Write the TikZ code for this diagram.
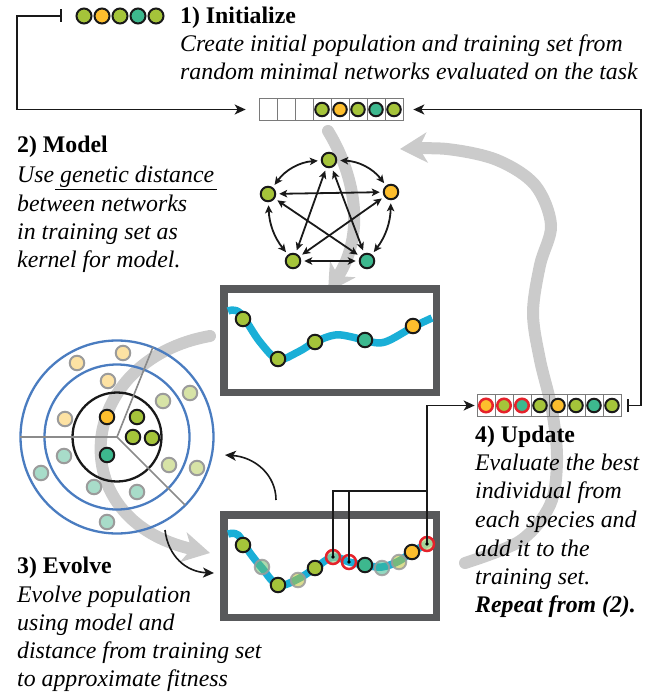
\documentclass[tikz,border=0pt]{standalone}
\usepackage{fontspec}
\setmainfont{Liberation Serif}
\usetikzlibrary{arrows.meta}
\definecolor{cgreen}{HTML}{A5C43A}
\definecolor{corange}{HTML}{FDBE2D}
\definecolor{cteal}{HTML}{3DB88E}
\definecolor{ccyan}{HTML}{1AAFD7}
\definecolor{cbox}{HTML}{58595B}
\definecolor{cblue}{HTML}{4A7CC0}
\definecolor{cred}{HTML}{E5222B}
\definecolor{cbg}{HTML}{CBCBCB}
\definecolor{pgreen}{HTML}{D7E3A6}
\definecolor{porange}{HTML}{FDE2A3}
\definecolor{pteal}{HTML}{A8DCC9}
\definecolor{cfade}{HTML}{9B9B9B}
\definecolor{ccell}{HTML}{7A7A7A}
\begin{document}
\begin{tikzpicture}[x=1pt,y=-1pt,
  dot/.style={circle,draw=black!90,line width=2pt,minimum size=14.5pt,inner sep=0pt},
  G/.style={dot,fill=cgreen}, O/.style={dot,fill=corange}, T/.style={dot,fill=cteal},
  fd/.style={circle,draw=cfade,line width=2pt,minimum size=14.5pt,inner sep=0pt},
  fG/.style={fd,fill=pgreen}, fO/.style={fd,fill=porange}, fT/.style={fd,fill=pteal},
  fc/.style={circle,draw=cfade,draw opacity=0.85,line width=2pt,minimum size=14.5pt,inner sep=0pt,fill opacity=0.55},
  rr/.style={circle,draw=cred,line width=2.5pt,minimum size=14pt,inner sep=0pt},
  cell/.style={draw=ccell,line width=0.7pt,minimum width=18pt,minimum height=22pt,inner sep=0pt},
  conn/.style={draw=black!90,line width=1.6pt},
  tip/.style={-{Stealth[length=11pt,width=10pt,inset=3pt]}},
  teearrow/.style={{Bar[width=13pt]}-{Stealth[length=11pt,width=10pt,inset=3pt]}},
  ntip/.style={{Stealth[length=8pt,width=7.5pt,inset=2pt]}-{Stealth[length=8pt,width=7.5pt,inset=2pt]},draw=black!90,line width=1.8pt,shorten <=3pt,shorten >=3pt},
  bgarrow/.style={draw=cbg,line width=12pt,line cap=round,-{Stealth[length=27pt,width=30pt,inset=8pt]}},
  curve/.style={draw=ccyan,line width=7.5pt},
  box/.style={draw=cbox,line width=7.5pt,fill=white},
  ttl/.style={anchor=base west,inner sep=0pt,font=\fontsize{23.8}{28}\selectfont\bfseries},
  txt/.style={anchor=base west,inner sep=0pt,font=\fontsize{23.8}{28}\selectfont\itshape},
]
\useasboundingbox (0,0) rectangle (655,693);

% background gray arrows
\draw[bgarrow] (328,131) .. controls (352,170) and (368,230) .. (328,292);
\draw[bgarrow] (210,336) .. controls (75,360) and (60,520) .. (210,553);
\draw[bgarrow] plot[smooth,tension=0.55] coordinates {(465,563) (520,541) (550,505) (557,460) (552,410) (540,360) (533,313) (540,265) (551,225) (535,185) (497,160) (447,149) (400,149)};

% 1) Initialize
\foreach \c [count=\i] in {G,O,G,T,G} \node[\c,minimum size=15pt] (p\i) at ({66+18*\i},16) {};
\node[ttl] (h1) at (180,24) {1) Initialize};
\node[txt] (h1a) at (180,52) {Create initial population and training set from};
\node[txt] (h1b) at (180,80) {random minimal networks evaluated on the task};

% top array
\foreach \i in {1,...,8} \node[cell] (a\i) at ({250+18*\i},109.5) {};
\foreach \c [count=\i from 4] in {G,O,G,T,G} \node[\c,minimum size=13.5pt] (ad\i) at (a\i) {};
\coordinate (t1) at (62,16);
\draw[conn,teearrow,shorten >=13pt] (t1) -- (17,16) |- (a1.west);

% 2) Model
\node[ttl] (h2) at (17,152) {2) Model};
\node[txt] (h2a) at (17,182) {Use genetic distance};
\node[txt] (h2b) at (17,211) {between networks};
\node[txt] (h2c) at (17,239) {in training set as};
\node[txt] (h2d) at (17,267) {kernel for model.};
\draw[line width=1.4pt] (55,189.5) -- (217,189.5);

% network
\node[G] (n1) at (329,160) {};
\node[O] (n2) at (391,192) {};
\node[T] (n3) at (367,261) {};
\node[G] (n4) at (293,261) {};
\node[G] (n5) at (268,194) {};
\draw[ntip] (n1) to[bend left=25] (n2);
\draw[ntip] (n2) to[bend left=18] (n3);
\draw[ntip] (n3) -- (n4);
\draw[ntip] (n4) to[bend left=18] (n5);
\draw[ntip] (n5) to[bend left=25] (n1);
\draw[ntip] (n1) -- (n3);
\draw[ntip] (n1) -- (n4);
\draw[ntip] (n5) -- (n2);
\draw[ntip] (n5) -- (n3);
\draw[ntip] (n2) -- (n4);

% upper graph
\draw[box] (223.75,288.75) rectangle (436.25,392.25);
\draw[curve] plot[smooth,tension=0.6] coordinates {(228,311) (240,313) (260,342) (278,359) (298,352) (315,342) (335,335) (352,337) (367,341) (385,342) (413,327) (432,318)};
\node[G] (u1) at (243,319) {};
\node[G] (u2) at (278,359) {};
\node[G] (u3) at (315,342) {};
\node[T] (u4) at (365,340) {};
\node[O] (u5) at (413,326) {};

% circle diagram
\coordinate (cc) at (117,437);
\draw[cblue,line width=2.3pt] (cc) circle[radius=96.5pt];
\draw[cblue,line width=2.3pt] (cc) circle[radius=72.5pt];
\draw[black!90,line width=2.3pt] (cc) circle[radius=44.5pt];
\draw[cfade!90!black,line width=1.6pt] (cc) -- (20,437);
\draw[cfade!90!black,line width=1.6pt] (cc) -- (153,347);
\draw[cfade!90!black,line width=1.6pt] (cc) -- (185,505);
\node[fO] (f1) at (77,363) {};
\node[fO] (f2) at (123,353) {};
\node[fO] (f3) at (108,381) {};
\node[fO] (f4) at (65,419) {};
\node[fG] (f5) at (163,401) {};
\node[fG] (f6) at (190,393) {};
\node[fG] (f7) at (169,465) {};
\node[fG] (f8) at (197,468) {};
\node[fT] (f9) at (64,456) {};
\node[fT] (f10) at (41,473) {};
\node[fT] (f11) at (94,487) {};
\node[fT] (f12) at (137,492) {};
\node[fT] (f13) at (107,522) {};
\node[O] (s1) at (107,417) {};
\node[G] (s2) at (137,417) {};
\node[G] (s3) at (133,437) {};
\node[G] (s4) at (152,438) {};
\node[T] (s5) at (107,455) {};

% curved arrows
\coordinate (ea1) at (276,500); \coordinate (ea2) at (225,455);
\draw[conn,tip] (ea1) .. controls (276,475) and (255,457) .. (ea2);
\coordinate (eb1) at (165,530); \coordinate (eb2) at (214,573);
\draw[conn,tip] (eb1) .. controls (168,556) and (186,572) .. (eb2);

% lower graph
\draw[box] (223.75,514.75) rectangle (436.25,617.25);
\draw[curve] plot[smooth,tension=0.6] coordinates {(228,534) (238,535) (250,553) (262,568) (278,585) (298,579) (315,568) (333,557) (349,562) (365,565) (382,567) (399,561) (412,552) (427,544) (432,541)};
\node[G] (l1) at (243,545) {};
\node[fc,fill=cteal!60!cgreen] (l2) at (262,567) {};
\node[G] (l3) at (278,585) {};
\node[fc,fill=cgreen!70!corange] (l4) at (298,580) {};
\node[G] (l5) at (315,568) {};
\node[T] (l6) at (365,565) {};
\node[fc,fill=cteal] (l7) at (382,568) {};
\node[fc,fill=cgreen!70!corange] (l8) at (399,562) {};
\node[O] (l9) at (412,552) {};
\node[rr,fill=cteal!50!cgreen!70,fill opacity=0.7] (r1) at (333,557) {};
\node[rr] (r2) at (349,562) {};
\node[rr,fill=cgreen!60,fill opacity=0.8] (r3) at (427,544) {};

% bottom array
\foreach \i in {1,...,8} \node[cell] (b\i) at ({468+18*\i},405.5) {};
\foreach \c [count=\i] in {corange,cgreen,cteal} \node[rr,fill=\c,minimum size=13.5pt] (bd\i) at (b\i) {};
\foreach \c [count=\i from 4] in {G,O,G,T,G} \node[\c,minimum size=13.5pt] (bd\i) at (b\i) {};

% update connectors
\coordinate (j) at (427,491);
\draw[conn] (r1.center) |- (j);
\draw[conn] (r2.center) |- (j);
\draw[conn,tip,shorten >=2pt] (r3.center) |- (b1.west);
\foreach \r in {r1,r2,r3} \fill[black] (\r.center) circle[radius=1.8pt];
\coordinate (t2) at (627,405.5);
\draw[conn,teearrow,shorten >=10pt] (t2) -- (641,405.5) |- (a8.east);

% 3) Evolve
\node[ttl] (h3) at (17,573) {3) Evolve};
\node[txt] (h3a) at (17,602) {Evolve population};
\node[txt] (h3b) at (17,630) {using model and};
\node[txt] (h3c) at (17,658) {distance from training set};
\node[txt] (h3d) at (17,686) {to approximate fitness};

% 4) Update
\node[ttl] (h4) at (475,442) {4) Update};
\node[txt] (h4a) at (475,470) {Evaluate the best};
\node[txt] (h4b) at (475,498) {individual from};
\node[txt] (h4c) at (475,527) {each species and};
\node[txt] (h4d) at (475,556) {add it to the};
\node[txt] (h4e) at (475,584) {training set.};
\node[ttl,font=\fontsize{23.8}{28}\selectfont\bfseries\itshape] (h4f) at (475,612) {Repeat from (2).};
\end{tikzpicture}
\end{document}
